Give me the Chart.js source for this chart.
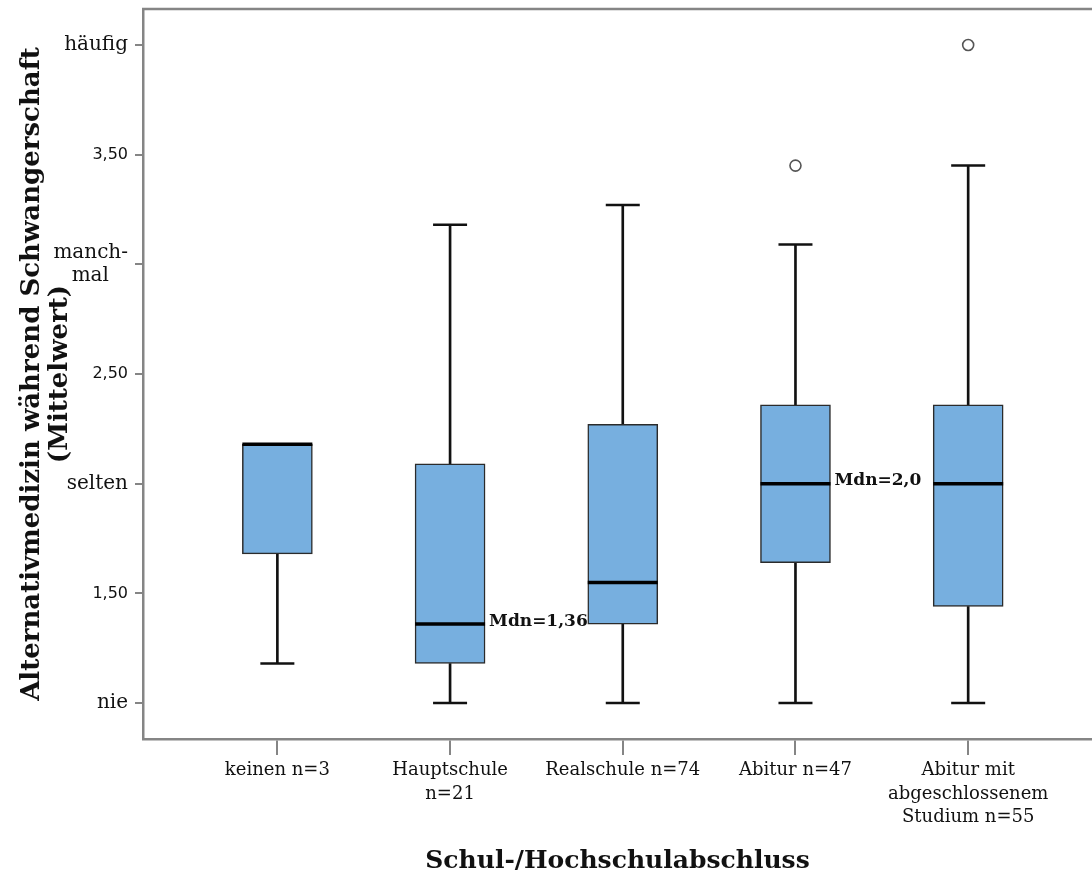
<!DOCTYPE html>
<html>
<head>
<meta charset="utf-8">
<script src="https://cdn.jsdelivr.net/npm/chart.js@4/dist/chart.umd.min.js"></script>
<style>
  body { margin: 0; background: #fff; }
</style>
</head>
<body>
<canvas id="boxChart" width="1092" height="879"></canvas>
<script>
const categories = [
  "keinen n=3",
  ["Hauptschule", "n=21"],
  "Realschule n=74",
  "Abitur n=47",
  ["Abitur mit", "abgeschlossenem", "Studium n=55"],
];
const whiskerLow = [1.18, 1.0, 1.0, 1.0, 1.0];
const q1 = [1.68, 1.18, 1.36, 1.64, 1.44];
const medians = [2.18, 1.36, 1.55, 2.0, 2.0];
const q3 = [2.18, 2.09, 2.27, 2.36, 2.36];
const whiskerHigh = [2.18, 3.18, 3.27, 3.09, 3.45];
const outliers = [[], [], [], [3.45], [4.0]];

const yTickValues = [1, 1.5, 2, 2.5, 3, 3.5, 4];
const yTickLabels = ["nie", "1,50", "selten", "2,50", ["manch-", "mal\u00A0\u00A0\u00A0"], "3,50", "häufig"];

const medianNotes = [
  { cat: 2, text: "Mdn=1,36" },
  { cat: 4, text: "Mdn=2,0" },
];

const BOX_W = 70;
const axisGrey = "#858585";

const pos = categories.map((c, i) => i + 1);

const frameTop = {
  id: "frameTop",
  afterDraw(chart) {
    const { ctx, chartArea } = chart;
    ctx.save();
    ctx.strokeStyle = axisGrey;
    ctx.lineWidth = 2.5;
    ctx.beginPath();
    ctx.moveTo(chartArea.left - 1, chartArea.top);
    ctx.lineTo(chartArea.right, chartArea.top);
    ctx.stroke();
    ctx.restore();
  },
};

const medianText = {
  id: "medianText",
  afterDatasetsDraw(chart) {
    const { ctx, scales } = chart;
    ctx.save();
    ctx.font = 'bold 17px "DejaVu Serif"';
    ctx.fillStyle = "#111";
    ctx.textAlign = "left";
    ctx.textBaseline = "alphabetic";
    medianNotes.forEach((m) => {
      const px = scales.x.getPixelForValue(m.cat) + BOX_W / 2 + 4;
      const py = scales.y.getPixelForValue(medians[m.cat - 1]) + 1.5;
      ctx.fillText(m.text, px, py);
    });
    ctx.restore();
  },
};

Chart.defaults.font.family = '"DejaVu Serif"';
Chart.defaults.color = "#111";

new Chart(document.getElementById("boxChart"), {
  type: "bar",
  data: {
    datasets: [
      {
        // untere Whisker
        data: pos.map((x, i) => ({ x: x, y: [whiskerLow[i], q1[i]] })),
        backgroundColor: "#111",
        barThickness: 2,
        grouped: false,
        order: 5,
      },
      {
        // obere Whisker
        data: pos.map((x, i) => ({ x: x, y: [q3[i], whiskerHigh[i]] })),
        backgroundColor: "#111",
        barThickness: 2,
        grouped: false,
        order: 5,
      },
      {
        // Boxen Q1-Q3
        data: pos.map((x, i) => ({ x: x, y: [q1[i], q3[i]] })),
        backgroundColor: "#77AFDF",
        borderColor: "#2b2b2b",
        borderWidth: 1.5,
        borderSkipped: false,
        barThickness: BOX_W,
        grouped: false,
        order: 3,
      },
      {
        // Whisker-Enden
        type: "scatter",
        data: pos.flatMap((x, i) => [
          { x: x, y: whiskerLow[i] },
          { x: x, y: whiskerHigh[i] },
        ]),
        pointStyle: "line",
        pointRadius: 17,
        borderColor: "#111",
        borderWidth: 2.5,
        order: 2,
      },
      {
        // Median
        type: "scatter",
        data: pos.map((x, i) => ({ x: x, y: medians[i] })),
        pointStyle: "line",
        pointRadius: BOX_W / 2,
        borderColor: "#000",
        borderWidth: 3.5,
        order: 1,
      },
      {
        // Ausreisser
        type: "scatter",
        data: pos.flatMap((x, i) => outliers[i].map((v) => ({ x: x, y: v }))),
        pointStyle: "circle",
        pointRadius: 5.5,
        backgroundColor: "#fff",
        borderColor: "#555",
        borderWidth: 1.6,
        order: 0,
      },
    ],
  },
  options: {
    responsive: false,
    animation: false,
    events: [],
    layout: { autoPadding: false, padding: { top: 9, left: 0, right: 0, bottom: 0 } },
    plugins: {
      legend: { display: false },
      tooltip: { enabled: false },
    },
    scales: {
      x: {
        type: "linear",
        min: 0.222,
        max: 5.717,
        offset: false,
        afterBuildTicks: (s) => {
          s.ticks = pos.map((v) => ({ value: v }));
        },
        afterFit: (s) => {
          s.height = 140;
          s.paddingLeft = 0;
          s.paddingRight = 0;
        },
        ticks: {
          autoSkip: false,
          maxRotation: 0,
          padding: 4,
          font: { size: 18, lineHeight: 1.3 },
          color: "#111",
          callback: (v) => categories[v - 1],
        },
        grid: {
          offset: false,
          drawOnChartArea: false,
          tickLength: 16,
          color: axisGrey,
          lineWidth: 2,
        },
        border: { color: axisGrey, width: 2.5 },
        title: {
          display: true,
          text: "Schul-/Hochschulabschluss",
          font: { size: 25, weight: "bold" },
          color: "#111",
          padding: { top: 0, bottom: 3 },
        },
      },
      y: {
        min: 0.836,
        max: 4.164,
        afterBuildTicks: (s) => {
          s.ticks = yTickValues.map((v) => ({ value: v }));
        },
        afterFit: (s) => {
          s.width = 143;
          s.paddingTop = 0;
          s.paddingBottom = 0;
        },
        ticks: {
          padding: 7,
          color: "#111",
          font: (ctx) =>
            ctx.tick && ctx.tick.value % 1 !== 0
              ? { family: '"DejaVu Sans"', size: 16 }
              : { family: '"DejaVu Serif"', size: 20, lineHeight: 1.15 },
          callback: (v) => yTickLabels[yTickValues.indexOf(v)],
        },
        grid: {
          offset: false,
          drawOnChartArea: false,
          tickLength: 8,
          color: axisGrey,
          lineWidth: 2,
        },
        border: { color: axisGrey, width: 2.5 },
        title: {
          display: true,
          text: ["Alternativmedizin während Schwangerschaft", "(Mittelwert)"],
          font: { size: 26, weight: "bold", lineHeight: 1.05 },
          color: "#111",
          padding: { top: 19, bottom: 0 },
        },
      },
    },
  },
  plugins: [frameTop, medianText],
});
</script>
</body>
</html>
